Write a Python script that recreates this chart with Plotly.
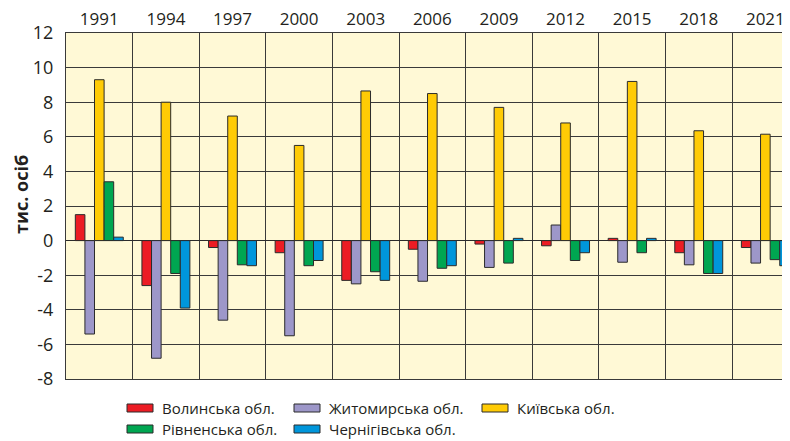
import plotly.graph_objects as go

years = ["1991", "1994", "1997", "2000", "2003", "2006", "2009", "2012", "2015", "2018", "2021"]
volyn = [1.5, -2.6, -0.4, -0.7, -2.3, -0.5, -0.2, -0.3, 0.13, -0.7, -0.4]
zhytomyr = [-5.4, -6.8, -4.6, -5.5, -2.5, -2.35, -1.55, 0.9, -1.25, -1.4, -1.3]
kyiv = [9.3, 8.0, 7.2, 5.5, 8.65, 8.5, 7.7, 6.8, 9.2, 6.35, 6.15]
rivne = [3.4, -1.9, -1.4, -1.45, -1.8, -1.6, -1.3, -1.15, -0.7, -1.9, -1.1]
chernihiv = [0.2, -3.9, -1.45, -1.15, -2.3, -1.45, 0.13, -0.7, 0.13, -1.9, -1.45]

ytick_vals = [-8, -6, -4, -2, 0, 2, 4, 6, 8, 10, 12]
ytick_text = ["-8", "-6", "-4", "-2", "0", "2", "4", "6", "8", "10", "12"]
y_title = "тис. осіб"

series = [
    ("Волинська обл.", volyn, "#EC1C24"),
    ("Житомирська обл.", zhytomyr, "#9D97C9"),
    ("Київська обл.", kyiv, "#FFCB05"),
    ("Рівненська обл.", rivne, "#00A651"),
    ("Чернігівська обл.", chernihiv, "#0096DB"),
]

# the page body adds an 8px offset; work in page pixels and subtract it
OFF = 8
PAGE_W, PAGE_H = 790, 441
W, H = PAGE_W - OFF, PAGE_H - OFF
PL, PR, PT, PB = 66, 790, 33, 379        # plot area in page pixels
ML, MR, MT, MB = PL - OFF, PAGE_W - PR, PT - OFF, PAGE_H - PB
PW, PH = PR - PL, PB - PT

fig = go.Figure()
for name, vals, color in series:
    fig.add_trace(go.Bar(
        x=years, y=vals, name=name,
        marker=dict(color=color, line=dict(color="#2b2b2b", width=1)),
    ))

font = "Open Sans"
ink = "#231F20"

def px2x(px):
    return (px - PL) / PW

def py2y(py):
    return (PB - py) / PH

# manual legend (3 columns x 2 rows, like the original), page pixels
legend_pos = [(127, 408), (294, 408), (482, 408), (127, 429), (294, 429)]
shapes = []
annotations = []
for (name, vals, color), (px, py) in zip(series, legend_pos):
    shapes.append(dict(type="rect", xref="paper", yref="paper",
                       x0=px2x(px), x1=px2x(px + 26),
                       y0=py2y(py - 4), y1=py2y(py + 4),
                       fillcolor=color, line=dict(color="#2b2b2b", width=1)))
    annotations.append(dict(text=name, xref="paper", yref="paper",
                            x=px2x(px + 33), y=py2y(py),
                            xanchor="left", yanchor="middle", showarrow=False,
                            font=dict(size=15, family=font, color=ink)))

# y-axis title, placed like in the original
annotations.append(dict(text="<b>" + y_title + "</b>", xref="paper", yref="paper",
                        x=px2x(21), y=py2y(195), textangle=-90,
                        xanchor="center", yanchor="middle", showarrow=False,
                        font=dict(size=18, family=font, color=ink)))

fig.update_layout(
    width=W, height=H,
    margin=dict(l=ML, r=MR, t=MT, b=MB, autoexpand=False),
    paper_bgcolor="white",
    plot_bgcolor="#FFF9D6",
    barmode="group",
    bargap=0.28,
    bargroupgap=0,
    showlegend=False,
    font=dict(family=font, color=ink),
    shapes=shapes,
    annotations=annotations,
)
fig.update_xaxes(
    type="category",
    side="top",
    range=[-0.5, 10.37],
    automargin=False,
    tickson="boundaries",
    showgrid=True, gridcolor="#3a3a3a", gridwidth=1,
    ticks="", ticklen=0,
    tickfont=dict(size=17, family=font, color=ink),
    ticklabeloverflow="allow",
    showline=True, linecolor="#3a3a3a", linewidth=1, mirror=True,
)
fig.update_yaxes(
    range=[-8, 12],
    automargin=False,
    tickvals=ytick_vals, ticktext=ytick_text,
    showgrid=True, gridcolor="#3a3a3a", gridwidth=1,
    zeroline=True, zerolinecolor="#2b2b2b", zerolinewidth=1,
    tickfont=dict(size=18, family=font, color=ink),
    ticks="", ticklabelstandoff=8,
    showline=True, linecolor="#3a3a3a", linewidth=1, mirror=False,
)

fig.write_html("out.html")
